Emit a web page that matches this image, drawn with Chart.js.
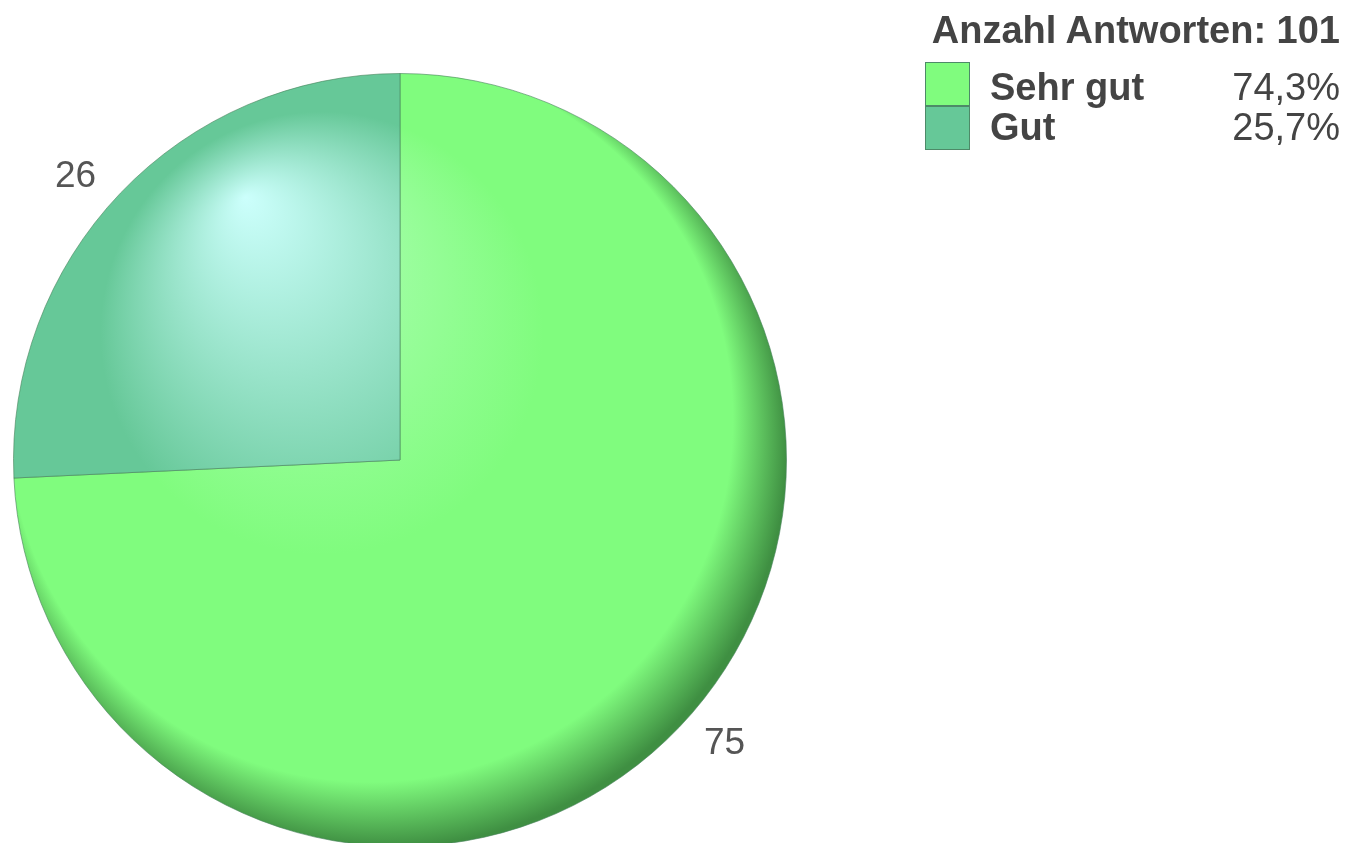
<!DOCTYPE html>
<html>
<head>
<meta charset="utf-8">
<script src="https://cdn.jsdelivr.net/npm/chart.js@4/dist/chart.umd.min.js"></script>
<style>
  body { margin: 0; background: #fff; overflow: hidden; width: 1347px; height: 843px; }
  #wrap { position: absolute; left: 0; top: 0; width: 1347px; height: 900px; }
  .lg { position: absolute; font-family: 'Liberation Sans', Arial, sans-serif; color: #444; font-size: 38px; line-height: 38px; white-space: nowrap; }
  .lg.title { font-weight: bold; right: 7px; top: 11px; }
  .lg.name { font-weight: bold; left: 990px; }
  .lg.pct { right: 7px; }
  .box { position: absolute; left: 925px; width: 43px; height: 42px; border: 1px solid #4d8a68; }
</style>
</head>
<body>
<div id="wrap"><canvas id="canvas"></canvas></div>
<div id="legend"></div>
<script>
const categories = ['Sehr gut', 'Gut'];
const counts = [75, 26];
const colors = ['#80fc7e', '#66c898'];
const lightColors = ['#b8ffc0', '#ccfffc'];
const darkColors = ['#3f8f42', '#4f9c78'];

const total = counts.reduce((a, b) => a + b, 0);
const pct = counts.map((c) => (c / total * 100).toFixed(1).replace('.', ',') + '%');

// legend as html
const legend = document.getElementById('legend');
let html = '<div class="lg title">Anzahl Antworten: ' + total + '</div>';
categories.forEach((c, i) => {
  html += '<div class="box" style="top:' + (62 + i * 44) + 'px;background:' + colors[i] + '"></div>';
  html += '<div class="lg name" style="top:' + (68 + i * 40) + 'px">' + c + '</div>';
  html += '<div class="lg pct" style="top:' + (68 + i * 40) + 'px">' + pct[i] + '</div>';
});
legend.innerHTML = html;

// sphere-like shading
function shade(context) {
  const i = context.dataIndex;
  const a = context.chart.chartArea;
  if (!a) return colors[i];
  const cx = (a.left + a.right) / 2, cy = (a.top + a.bottom) / 2;
  const r = Math.min(a.right - a.left, a.bottom - a.top) / 2;
  const g = context.chart.ctx.createRadialGradient(cx - 0.4 * r, cy - 0.68 * r, 0, cx - 0.04 * r, cy - 0.04 * r, 1.04 * r);
  g.addColorStop(0, lightColors[i]);
  g.addColorStop(0.55, colors[i]);
  g.addColorStop(0.9, colors[i]);
  g.addColorStop(1, darkColors[i]);
  return g;
}

const valueLabels = {
  id: 'valueLabels',
  afterDatasetsDraw(chart) {
    const c = chart.ctx;
    c.save();
    c.font = '37px "Liberation Sans", Arial, sans-serif';
    c.fillStyle = '#555';
    c.textAlign = 'center';
    c.textBaseline = 'middle';
    chart.getDatasetMeta(0).data.forEach((arc, i) => {
      const p = arc.getProps(['x', 'y', 'startAngle', 'endAngle', 'outerRadius'], true);
      const mid = (p.startAngle + p.endAngle) / 2 - 0.044;
      const d = p.outerRadius * 1.115;
      c.fillText(counts[i], p.x + Math.cos(mid) * d, p.y + Math.sin(mid) * d);
    });
    c.restore();
  },
};

const ctx = document.getElementById('canvas');
new Chart(ctx, {
  type: 'pie',
  data: {
    labels: categories,
    datasets: [
      {
        data: counts,
        backgroundColor: shade,
        borderColor: 'rgba(70,130,90,0.6)',
        borderWidth: 1,
      },
    ],
  },
  options: {
    responsive: true,
    maintainAspectRatio: false,
    animation: false,
    layout: {
      padding: { left: 13, top: 73, right: 560, bottom: 53 },
    },
    plugins: {
      legend: { display: false },
      tooltip: { enabled: false },
    },
  },
  plugins: [valueLabels],
});
</script>
</body>
</html>
